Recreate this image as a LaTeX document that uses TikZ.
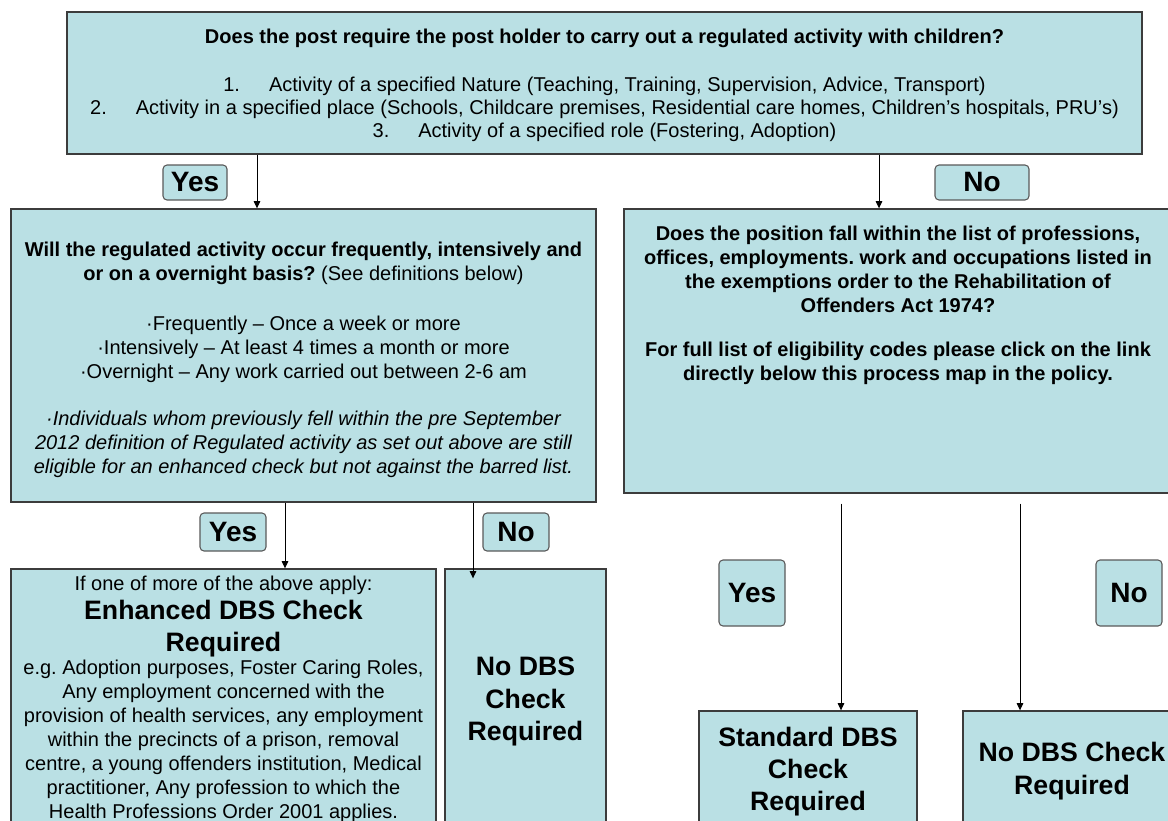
\documentclass[tikz,border=0pt]{standalone}
\usepackage{fontspec}
\setmainfont{Liberation Sans}
\usetikzlibrary{fit,arrows.meta}
\definecolor{boxfill}{RGB}{186,224,228}
\definecolor{boxline}{RGB}{60,60,60}
\definecolor{lblline}{RGB}{90,90,90}
\frenchspacing
\begin{document}
\begin{tikzpicture}[x=0.75pt,y=-0.75pt,
  box/.style={draw=boxline, fill=boxfill, line width=1pt, inner sep=0pt},
  lbl/.style={draw=lblline, fill=boxfill, line width=0.8pt, rounded corners=3pt, inner sep=0pt,
    font=\fontsize{21}{24}\selectfont\bfseries},
  txt/.style={align=center, inner sep=0pt, font=\fontsize{15}{18}\selectfont},
  toptxt/.style={align=center, inner sep=0pt, font=\fontsize{15}{17.25}\selectfont},
  bigtxt/.style={align=center, inner sep=0pt, font=\fontsize{20}{24.5}\selectfont\bfseries},
  arr/.style={-{Triangle[width=5pt,length=5.5pt]}, line width=0.75pt, black}]
\useasboundingbox (0,0) rectangle (1168,821);
\fill[white] (0,0) rectangle (1168,821);

% boxes
\node[box, fit={(67,12) (1142,154)}] (q1) {};
\node[box, fit={(11,209) (596,502)}] (q2) {};
\node[box, fit={(624,209) (1172,493)}] (q3) {};
\node[box, fit={(11,569) (436,850)}] (enh) {};
\node[box, fit={(445,569) (606,850)}] (nodbsA) {};
\node[box, fit={(699,711) (917,850)}] (std) {};
\node[box, fit={(963,711) (1181,850)}] (nodbsB) {};

% labels
\node[lbl, minimum width=48pt, minimum height=26.25pt] (yes1) at (195,182.5) {Yes};
\node[lbl, minimum width=70.5pt, minimum height=26.25pt] (no1) at (982,182.5) {No};
\node[lbl, minimum width=49.5pt, minimum height=28.5pt] (yes2) at (233,532) {Yes};
\node[lbl, minimum width=49.5pt, minimum height=28.5pt] (no2) at (516,532) {No};
\node[lbl, minimum width=49.5pt, minimum height=49.5pt] (yes3) at (752,593) {Yes};
\node[lbl, minimum width=49.5pt, minimum height=49.5pt] (no3) at (1129,593) {No};

% texts
\node[toptxt] (t1) at (604.5,85) {\bfseries Does the post require the post holder to carry out a regulated activity with children?\\[18.75pt]
1.\hspace{1.45em}Activity of a specified Nature (Teaching, Training, Supervision, Advice, Transport)\\
2.\hspace{1.45em}Activity in a specified place (Schools, Childcare premises, Residential care homes, Children’s hospitals, PRU’s)\\
3.\hspace{1.45em}Activity of a specified role (Fostering, Adoption)};

\node[txt] (t2) at (303.5,359.5) {\bfseries Will the regulated activity occur frequently, intensively and\\
{\bfseries or on a overnight basis?} (See definitions below)\\[19.5pt]
·Frequently – Once a week or more\\
·Intensively – At least 4 times a month or more\\
·Overnight – Any work carried out between 2-6 am\\[17.25pt]
\itshape ·Individuals whom previously fell within the pre September\\
\itshape 2012 definition of Regulated activity as set out above are still\\
\itshape eligible for an enhanced check but not against the barred list.};

\node[txt] (t3) at (898,305) {\bfseries Does the position fall within the list of professions,\\
\bfseries offices, employments. work and occupations listed in\\
\bfseries the exemptions order to the Rehabilitation of\\
\bfseries Offenders Act 1974?\\[15pt]
\bfseries For full list of eligibility codes please click on the link\\
\bfseries directly below this process map in the policy.};

\node[txt] (t4a) at (223.5,585) {If one of more of the above apply:};
\node[bigtxt, font=\fontsize{20}{24}\selectfont\bfseries] (t4b) at (223.5,629) {Enhanced DBS Check\\Required};
\node[txt] (t4c) at (223.5,741) {e.g. Adoption purposes, Foster Caring Roles,\\
Any employment concerned with the\\
provision of health services, any employment\\
within the precincts of a prison, removal\\
centre, a young offenders institution, Medical\\
practitioner, Any profession to which the\\
Health Professions Order 2001 applies.};

\node[bigtxt] (t5) at (525.5,701.5) {No DBS\\Check\\Required};
\node[bigtxt, font=\fontsize{20}{24}\selectfont\bfseries] (t6) at (808,772) {Standard DBS\\Check\\Required};
\node[bigtxt] (t7) at (1072,771) {No DBS Check\\Required};

% connector columns
\coordinate (c1) at (257,0);
\coordinate (c2) at (879,0);
\coordinate (c3) at (285,0);
\coordinate (c4) at (473,0);
\coordinate (c5) at (841,0);
\coordinate (c6) at (1020,0);
\coordinate (e4) at ([yshift=-7.5pt]nodbsA.north);
\coordinate (s3) at ([yshift=-7.5pt]q3.south);

\draw[arr] (q1.south -| c1) -- (q2.north -| c1);
\draw[arr] (q1.south -| c2) -- (q3.north -| c2);
\draw[arr] (q2.south -| c3) -- (enh.north -| c3);
\draw[arr] (q2.south -| c4) -- (e4 -| c4);
\draw[arr] (s3 -| c5) -- (std.north -| c5);
\draw[arr] (s3 -| c6) -- (nodbsB.north -| c6);
\end{tikzpicture}
\end{document}
